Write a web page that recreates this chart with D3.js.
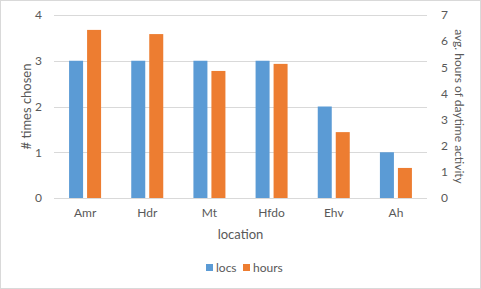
<!DOCTYPE html>
<html>
<head>
<meta charset="utf-8">
<script src="https://cdn.jsdelivr.net/npm/d3@7"></script>
<style>
  body { margin: 0; background: #fff; }
  svg text { font-family: Lato, "Open Sans", sans-serif; fill: #595959; }
</style>
</head>
<body>
<div class="chart"></div>
<script>
// Data
var locations = ["Amr", "Hdr", "Mt", "Hfdo", "Ehv", "Ah"];
var locs = [3, 3, 3, 3, 2, 1];
var hours = [6.43, 6.27, 4.86, 5.13, 2.52, 1.15];
var leftTicks = [0, 1, 2, 3, 4];
var rightTicks = [0, 1, 2, 3, 4, 5, 6, 7];

var svgWidth = 481;
var svgHeight = 289;
var fontFamily = "Lato, 'Open Sans', sans-serif";

var chartMargin = { top: 15, right: 54, bottom: 91, left: 54 };
var chartWidth = svgWidth - chartMargin.left - chartMargin.right;
var chartHeight = svgHeight - chartMargin.top - chartMargin.bottom;

var svg = d3.select(".chart")
  .append("svg")
  .attr("width", svgWidth)
  .attr("height", svgHeight);

// Outer border
svg.append("rect")
  .attr("x", 0.5).attr("y", 0.5)
  .attr("width", svgWidth - 1).attr("height", svgHeight - 1)
  .attr("fill", "#fff")
  .attr("stroke", "#d9d9d9");

var chartGroup = svg.append("g")
  .attr("transform", `translate(${chartMargin.left}, ${chartMargin.top})`);

var xBandScale = d3.scaleBand()
  .domain(locations)
  .range([0, chartWidth]);

var yLeft = d3.scaleLinear().domain([0, 4]).range([chartHeight, 0]);
var yRight = d3.scaleLinear().domain([0, 7]).range([chartHeight, 0]);

// Gridlines
chartGroup.selectAll(".grid")
  .data(leftTicks)
  .enter()
  .append("line")
  .attr("x1", 0)
  .attr("x2", chartWidth)
  .attr("y1", d => Math.round(yLeft(d)) + 0.5)
  .attr("y2", d => Math.round(yLeft(d)) + 0.5)
  .attr("stroke", "#d9d9d9")
  .attr("stroke-width", 1);

// Bars
var barW = 14;
var gap = 4;
var groupOffset = (xBandScale.bandwidth() - (barW * 2 + gap)) / 2;

chartGroup.selectAll(".locs")
  .data(locations)
  .enter()
  .append("rect")
  .attr("x", d => xBandScale(d) + groupOffset)
  .attr("y", (d, i) => yLeft(locs[i]))
  .attr("width", barW)
  .attr("height", (d, i) => chartHeight - yLeft(locs[i]))
  .attr("fill", "#5b9bd5");

chartGroup.selectAll(".hours")
  .data(locations)
  .enter()
  .append("rect")
  .attr("x", d => xBandScale(d) + groupOffset + barW + gap)
  .attr("y", (d, i) => yRight(hours[i]))
  .attr("width", barW)
  .attr("height", (d, i) => chartHeight - yRight(hours[i]))
  .attr("fill", "#ed7d31");

// Axes
var leftAxis = d3.axisLeft(yLeft).tickValues(leftTicks).tickFormat(d3.format("d")).tickSize(0).tickPadding(12);
var rightAxis = d3.axisRight(yRight).tickValues(rightTicks).tickFormat(d3.format("d")).tickSize(0).tickPadding(14);
var bottomAxis = d3.axisBottom(xBandScale).tickSize(0).tickPadding(10);

var gl = chartGroup.append("g").call(leftAxis);
var gr = chartGroup.append("g").attr("transform", `translate(${chartWidth}, 0)`).call(rightAxis);
var gb = chartGroup.append("g").attr("transform", `translate(0, ${chartHeight})`).call(bottomAxis);

[gl, gr, gb].forEach(function(g) {
  g.select(".domain").remove();
  g.selectAll("text")
    .attr("font-size", 12)
    .attr("font-family", fontFamily)
    .attr("fill", "#595959");
});

// Axis titles
chartGroup.append("text")
  .attr("transform", `translate(${-chartMargin.left + 31}, ${chartHeight / 2}) rotate(-90)`)
  .attr("text-anchor", "middle")
  .attr("font-size", 13)
  .text("# times chosen");

chartGroup.append("text")
  .attr("transform", `translate(${chartWidth + 28}, ${chartHeight / 2}) rotate(90)`)
  .attr("text-anchor", "middle")
  .attr("font-size", 12)
  .text("avg. hours of daytime activity");

chartGroup.append("text")
  .attr("x", chartWidth / 2)
  .attr("y", chartHeight + 41)
  .attr("text-anchor", "middle")
  .attr("font-size", 13)
  .text("location");

// Legend
var legend = svg.append("g").attr("transform", "translate(206, 264)");
var legendItems = [
  { name: "locs", color: "#5b9bd5", x: 0 },
  { name: "hours", color: "#ed7d31", x: 37 }
];
legendItems.forEach(function(item) {
  legend.append("rect")
    .attr("x", item.x).attr("y", 0)
    .attr("width", 7).attr("height", 7)
    .attr("fill", item.color);
  legend.append("text")
    .attr("x", item.x + 10).attr("y", 8)
    .attr("font-size", 12)
    .text(item.name);
});
</script>
</body>
</html>
